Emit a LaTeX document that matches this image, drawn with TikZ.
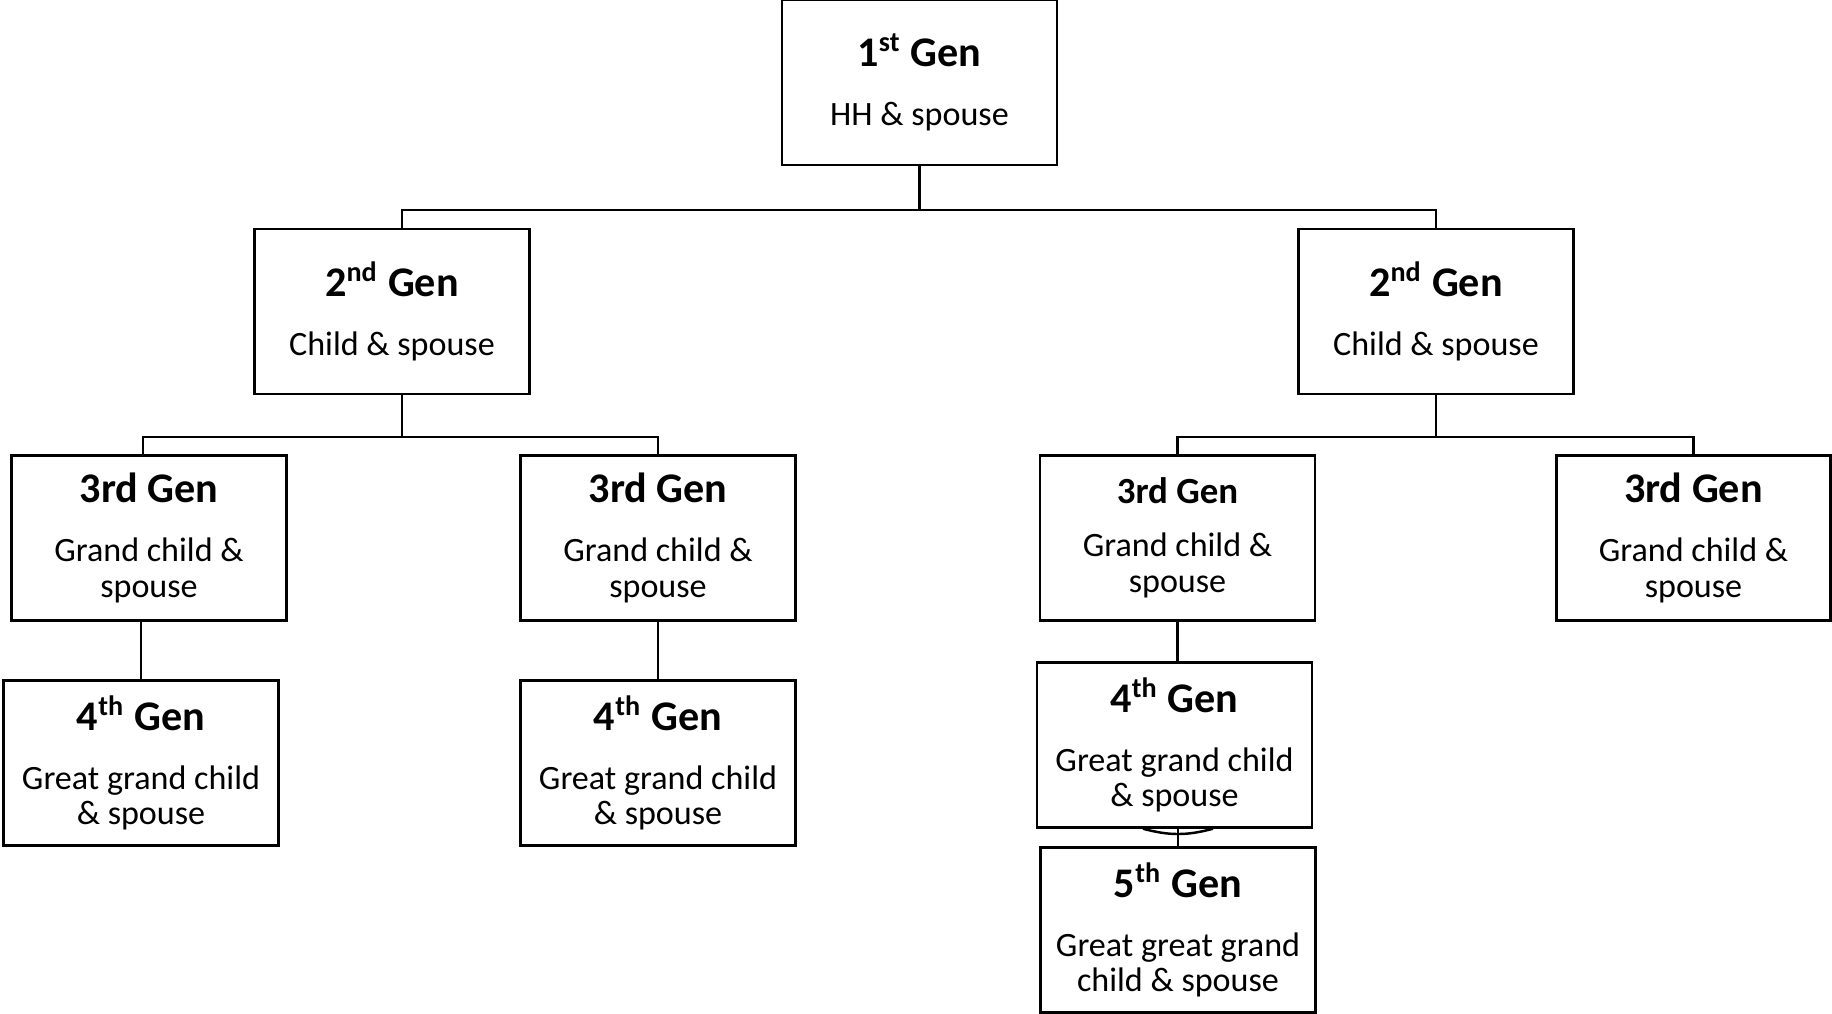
\documentclass[tikz,border=0pt]{standalone}
\usepackage{fontspec}
\setmainfont{Carlito}
\usetikzlibrary{calc}
\newcommand{\genhead}[1]{   % bold heading line of a box
	{\fontsize{12}{12}\selectfont\bfseries #1}%
}

\begin{document}
\begin{tikzpicture}[
	genbox/.style={draw, line width=0.7pt, align=center, inner sep=0pt,
		minimum width=2.75cm, minimum height=1.65cm,
		font=\fontsize{9.7}{10}\selectfont},
	link/.style={line width=0.7pt}
]
\useasboundingbox (0,0) rectangle (18.32,-10.14);

\node[genbox] (g1) at (9.195,-0.825) {\genhead{1\textsuperscript{st} Gen}\\[6.8pt] HH \& spouse};

\node[genbox] (g2l) at (3.92,-3.115) {\genhead{2\textsuperscript{nd} Gen}\\[6.8pt] Child \& spouse};
\node[genbox] (g2r) at (14.36,-3.115) {\genhead{2\textsuperscript{nd} Gen}\\[6.8pt] Child \& spouse};

\node[genbox] (g3a) at (1.49,-5.38) {\genhead{3rd Gen}\\[6.8pt] Grand child \&\\ spouse};
\node[genbox] (g3b) at (6.58,-5.38) {\genhead{3rd Gen}\\[6.8pt] Grand child \&\\ spouse};
\node[genbox, font=\fontsize{9.7}{10.4}\selectfont] (g3c) at (11.775,-5.38)
	{{\fontsize{10.5}{10.5}\selectfont\bfseries 3rd Gen}\\[4.6pt] Grand child \&\\ spouse};
\node[genbox, minimum width=2.74cm] (g3d) at (16.935,-5.38) {\genhead{3rd Gen}\\[6.8pt] Grand child \&\\ spouse};

\node[genbox] (g4a) at (1.41,-7.63) {\genhead{4\textsuperscript{th} Gen}\\[6.8pt] Great grand child\\ \& spouse};
\node[genbox] (g4b) at (6.58,-7.63) {\genhead{4\textsuperscript{th} Gen}\\[6.8pt] Great grand child\\ \& spouse};
\node[genbox] (g4c) at (11.745,-7.45) {\genhead{4\textsuperscript{th} Gen}\\[6.8pt] Great grand child\\ \& spouse};

\node[genbox] (g5) at (11.78,-9.30) {\genhead{5\textsuperscript{th} Gen}\\[6.8pt] Great great grand\\ child \& spouse};

% first to second
\draw[link] (g1.south) -- ++(0,-0.44) coordinate (j1);
\draw[link] ([xshift=0.1cm]g2l.north) |- (j1) -| (g2r.north);

% second to third
\draw[link] ([xshift=0.1cm]g2l.south) -- ++(0,-0.42) coordinate (j2l);
\draw[link] ([xshift=-0.06cm]g3a.north) |- (j2l) -| (g3b.north);
\draw[link] (g2r.south) -- ++(0,-0.42) coordinate (j2r);
\draw[link] (g3c.north) |- (j2r) -| (g3d.north);

% third to fourth, fourth to fifth
\draw[link] (g3a.south -| g4a.north) -- (g4a.north);
\draw[link] (g3b.south) -- (g4b.north);
\draw[link] (g3c.south) -- (g3c.south |- g4c.north);
\coordinate (j4) at (g4c.south -| g5.north);
\draw[link] (j4) -- (g5.north);
\draw[link] ([xshift=-0.35cm]j4) to[bend right=15] ([xshift=0.35cm]j4);
\end{tikzpicture}
\end{document}
